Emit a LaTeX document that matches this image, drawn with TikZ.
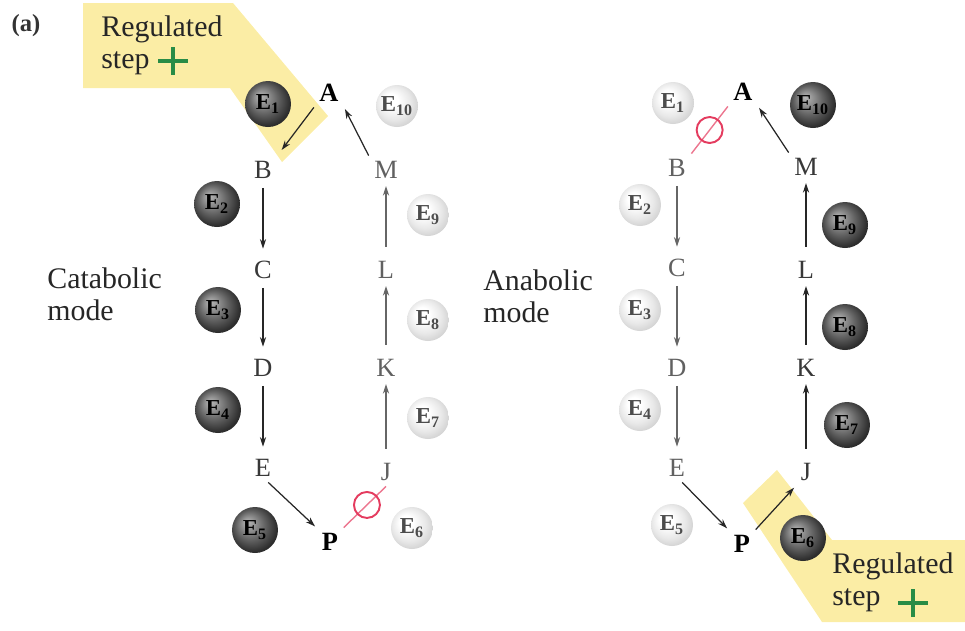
\documentclass[tikz,border=0pt]{standalone}
\usepackage{fontspec}
\setmainfont{Liberation Serif}
\usetikzlibrary{arrows.meta}
\definecolor{hl}{RGB}{251,237,165}
\definecolor{plusgreen}{RGB}{40,140,70}
\definecolor{inhred}{RGB}{228,60,95}
\pgfdeclareradialshading{darkball}{\pgfpoint{-9bp}{9bp}}{color(0bp)=(black!28); color(5bp)=(black!38); color(16bp)=(black!62); color(26bp)=(black!82); color(36bp)=(black!92)}
\pgfdeclareradialshading{lightball}{\pgfpoint{-9bp}{9bp}}{color(0bp)=(white); color(8bp)=(white); color(20bp)=(black!9); color(30bp)=(black!20); color(36bp)=(black!26)}
\begin{document}
\begin{tikzpicture}[x=0.02cm,y=-0.02cm,
  met/.style={font=\fontsize{15}{15}\selectfont, text=black!78, inner sep=3pt, text height=10pt, text depth=0pt},
  metin/.style={met, text=black!62},
  key/.style={met, font=\fontsize{15}{15}\selectfont\bfseries, text=black},
  enzd/.style={circle, minimum size=0.92cm, inner sep=0pt, shade, shading=darkball, font=\fontsize{13}{13}\selectfont\bfseries, text=black},
  enzl/.style={circle, minimum size=0.84cm, inner sep=0pt, shade, shading=lightball, font=\fontsize{13}{13}\selectfont\bfseries, text=black!70},
  lbl/.style={font=\fontsize{17}{18.3}\selectfont, text=black!85, align=left, inner sep=0pt, anchor=north west},
  arr/.style={-{Stealth[length=5.5pt,width=3.6pt]}, line width=0.7pt, draw=black!85},
  arrin/.style={arr, draw=black!60},
  down/.style={shorten <=2pt, shorten >=4pt},
  up/.style={shorten <=5pt, shorten >=1pt},
  inhline/.style={draw=inhred!70, line width=0.8pt},
  inhib/.style={circle, draw=inhred, line width=1.1pt, minimum size=0.52cm, inner sep=0pt},
  plusbar/.style={draw=plusgreen, line width=2.3pt}
]
\useasboundingbox (0,0) rectangle (965,630);
% highlights
\fill[hl] (83,3) -- (233,3) -- (328,116) -- (282,162) -- (230,88) -- (83,88) -- cycle;
\fill[hl] (743,503) -- (777,470) -- (832,540) -- (965,540) -- (965,622) -- (822,622) -- cycle;

\node[font=\fontsize{14}{14}\selectfont\bfseries, text=black!80] (lab) at (26,26) {(a)};

% ---------- left: catabolic ----------
\node[lbl] (lreg) at (101,15) {Regulated\\step};
\draw[plusbar] (158,61) -- (188,61) (173,47) -- (173,75);
\node[lbl] (lcat) at (47,267) {Catabolic\\mode};

\node[key] (lA) at (329,93) {A};
\node[met] (lB) at (263,170) {B};
\node[met] (lC) at (263,270) {C};
\node[met] (lD) at (263,368) {D};
\node[met] (lE) at (263,468) {E};
\node[key] (lP) at (330,542) {P};
\node[metin] (lJ) at (386,472) {J};
\node[metin] (lK) at (386,368) {K};
\node[metin] (lL) at (386,270) {L};
\node[metin] (lM) at (386,170) {M};

\node[enzd] (lE1) at (268,104) {E\textsubscript{1}};
\node[enzl] (lE10) at (397,106) {E\textsubscript{10}};
\node[enzd] (lE2) at (217,204) {E\textsubscript{2}};
\node[enzd] (lE3) at (218,310) {E\textsubscript{3}};
\node[enzd] (lE4) at (218,410) {E\textsubscript{4}};
\node[enzd] (lE5) at (255,530) {E\textsubscript{5}};
\node[enzl] (lE6) at (412,528) {E\textsubscript{6}};
\node[enzl] (lE7) at (428,418) {E\textsubscript{7}};
\node[enzl] (lE8) at (428,320) {E\textsubscript{8}};
\node[enzl] (lE9) at (428,215) {E\textsubscript{9}};

\draw[arr, shorten >=4pt] (lA.south west) -- (lB.north east);
\draw[arr, down] (lB) -- (lC);
\draw[arr, down] (lC) -- (lD);
\draw[arr, down] (lD) -- (lE);
\draw[arr, shorten >=1pt] (lE.-70) -- (lP.north west);
\draw[inhline] (lP.north east) -- (lJ.south) node[inhib, pos=0.55] (linh) {};
\draw[arrin, up] (lJ) -- (lK);
\draw[arrin, up] (lK) -- (lL);
\draw[arrin, up] (lL) -- (lM);
\draw[arr, shorten >=1pt] (lM.north west) -- (lA.south east);

% ---------- right: anabolic ----------
\node[lbl] (rana) at (483,269) {Anabolic\\mode};
\node[lbl] (rreg) at (832,552) {Regulated\\step};
\draw[plusbar] (898,603) -- (928,603) (913,589) -- (913,617);

\node[key] (rA) at (743,92) {A};
\node[metin] (rB) at (677,168) {B};
\node[metin] (rC) at (677,268) {C};
\node[metin] (rD) at (677,368) {D};
\node[metin] (rE) at (677,468) {E};
\node[key] (rP) at (742,544) {P};
\node[met] (rJ) at (806,472) {J};
\node[met] (rK) at (806,368) {K};
\node[met] (rL) at (806,270) {L};
\node[met] (rM) at (806,167) {M};

\node[enzl] (rE1) at (673,103) {E\textsubscript{1}};
\node[enzd] (rE10) at (813,105) {E\textsubscript{10}};
\node[enzl] (rE2) at (640,205) {E\textsubscript{2}};
\node[enzl] (rE3) at (640,310) {E\textsubscript{3}};
\node[enzl] (rE4) at (640,410) {E\textsubscript{4}};
\node[enzl] (rE5) at (672,525) {E\textsubscript{5}};
\node[enzd] (rE6) at (803,538) {E\textsubscript{6}};
\node[enzd] (rE7) at (847,425) {E\textsubscript{7}};
\node[enzd] (rE8) at (845,327) {E\textsubscript{8}};
\node[enzd] (rE9) at (845,225) {E\textsubscript{9}};

\draw[inhline] (rB.north east) -- (rA.south west) node[inhib, pos=0.5] (rinh) {};
\draw[arrin, down] (rB) -- (rC);
\draw[arrin, down] (rC) -- (rD);
\draw[arrin, down] (rD) -- (rE);
\draw[arr, shorten >=1pt] (rE.-70) -- (rP.north west);
\draw[arr, shorten >=1pt] (rP.north east) -- (rJ.south west);
\draw[arr, up] (rJ) -- (rK);
\draw[arr, up] (rK) -- (rL);
\draw[arr, up] (rL) -- (rM);
\draw[arr, shorten >=1pt] (rM.north west) -- (rA.south east);
\end{tikzpicture}
\end{document}
